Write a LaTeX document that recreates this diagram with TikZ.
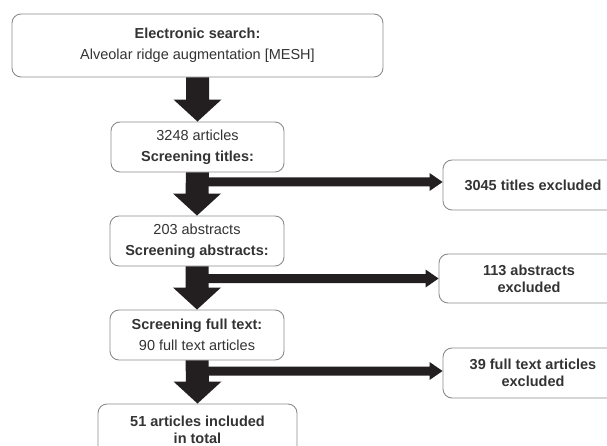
\documentclass[tikz,border=0pt]{standalone}
\usepackage{fontspec}
\setmainfont{Liberation Sans}
\usetikzlibrary{calc}
\definecolor{arr}{HTML}{231F20}
\definecolor{bord}{HTML}{8C8C8C}
\definecolor{txt}{HTML}{333333}
\begin{document}
\begin{tikzpicture}[x=1pt,y=-1pt,
  box/.style={draw=bord,line width=0.9pt,rounded corners=9pt,align=center,
    text=txt,font=\fontsize{14.5}{21}\selectfont,inner sep=2pt},
  tight/.style={font=\fontsize{14.5}{17}\selectfont},
  arrowfill/.style={fill=arr,draw=none}]
\useasboundingbox (0,0) rectangle (607,446);
\clip (0,0) rectangle (607,446);
\node[box,minimum width=371pt,minimum height=63pt] (top) at (197.5,45.5)
  {\textbf{Electronic search:}\\Alveolar ridge augmentation [MESH]};
\node[box,minimum width=173pt,minimum height=50pt] (b2) at (197.5,147)
  {3248 articles\\\textbf{Screening titles:}};
\node[box,minimum width=174pt,minimum height=50pt] (b3) at (197,241)
  {203 abstracts\\\textbf{Screening abstracts:}};
\node[box,minimum width=174pt,minimum height=50pt] (b4) at (197,335)
  {\textbf{Screening full text:}\\90 full text articles};
\node[box,tight,minimum width=199pt,minimum height=52pt] (b5) at (197.5,430)
  {\textbf{51 articles included}\\\textbf{in total}};
\node[box,minimum width=180pt,minimum height=50pt] (e1) at (533,185)
  {\textbf{3045 titles excluded}};
\node[box,tight,minimum width=180pt,minimum height=49pt] (e2) at (529,278.5)
  {\textbf{113 abstracts}\\\textbf{excluded}};
\node[box,tight,minimum width=180pt,minimum height=50pt] (e3) at (533,373)
  {\textbf{39 full text articles}\\\textbf{excluded}};
% down arrows
\foreach \a/\b in {top/b2,b2/b3,b3/b4,b4/b5}{
  \fill[arrowfill] ($(\a.south)+(-11.5,0)$) -- ($(\a.south)+(11.5,0)$)
    -- ($(\b.north)+(11.5,-22)$) -- ($(\b.north)+(24,-22)$) -- (\b.north)
    -- ($(\b.north)+(-24,-22)$) -- ($(\b.north)+(-11.5,-22)$) -- cycle;
}
% horizontal arrows
\coordinate (s1) at ($(b2.south |- e1.west)+(0,-3)$);
\coordinate (t1) at ($(e1.west)+(0,-3)$);
\coordinate (s2) at (b3.south |- e2.west);
\coordinate (t2) at (e2.west);
\coordinate (s3) at ($(b4.south |- e3.west)+(0,-2)$);
\coordinate (t3) at ($(e3.west)+(0,-2)$);
\foreach \s/\t in {s1/t1,s2/t2,s3/t3}{
  \fill[arrowfill] ($(\s)+(5,-4.5)$) -- ($(\t)+(-13,-4.5)$) -- ($(\t)+(-13,-9)$)
    -- (\t) -- ($(\t)+(-13,9)$) -- ($(\t)+(-13,4.5)$) -- ($(\s)+(5,4.5)$) -- cycle;
}
\end{tikzpicture}
\end{document}
